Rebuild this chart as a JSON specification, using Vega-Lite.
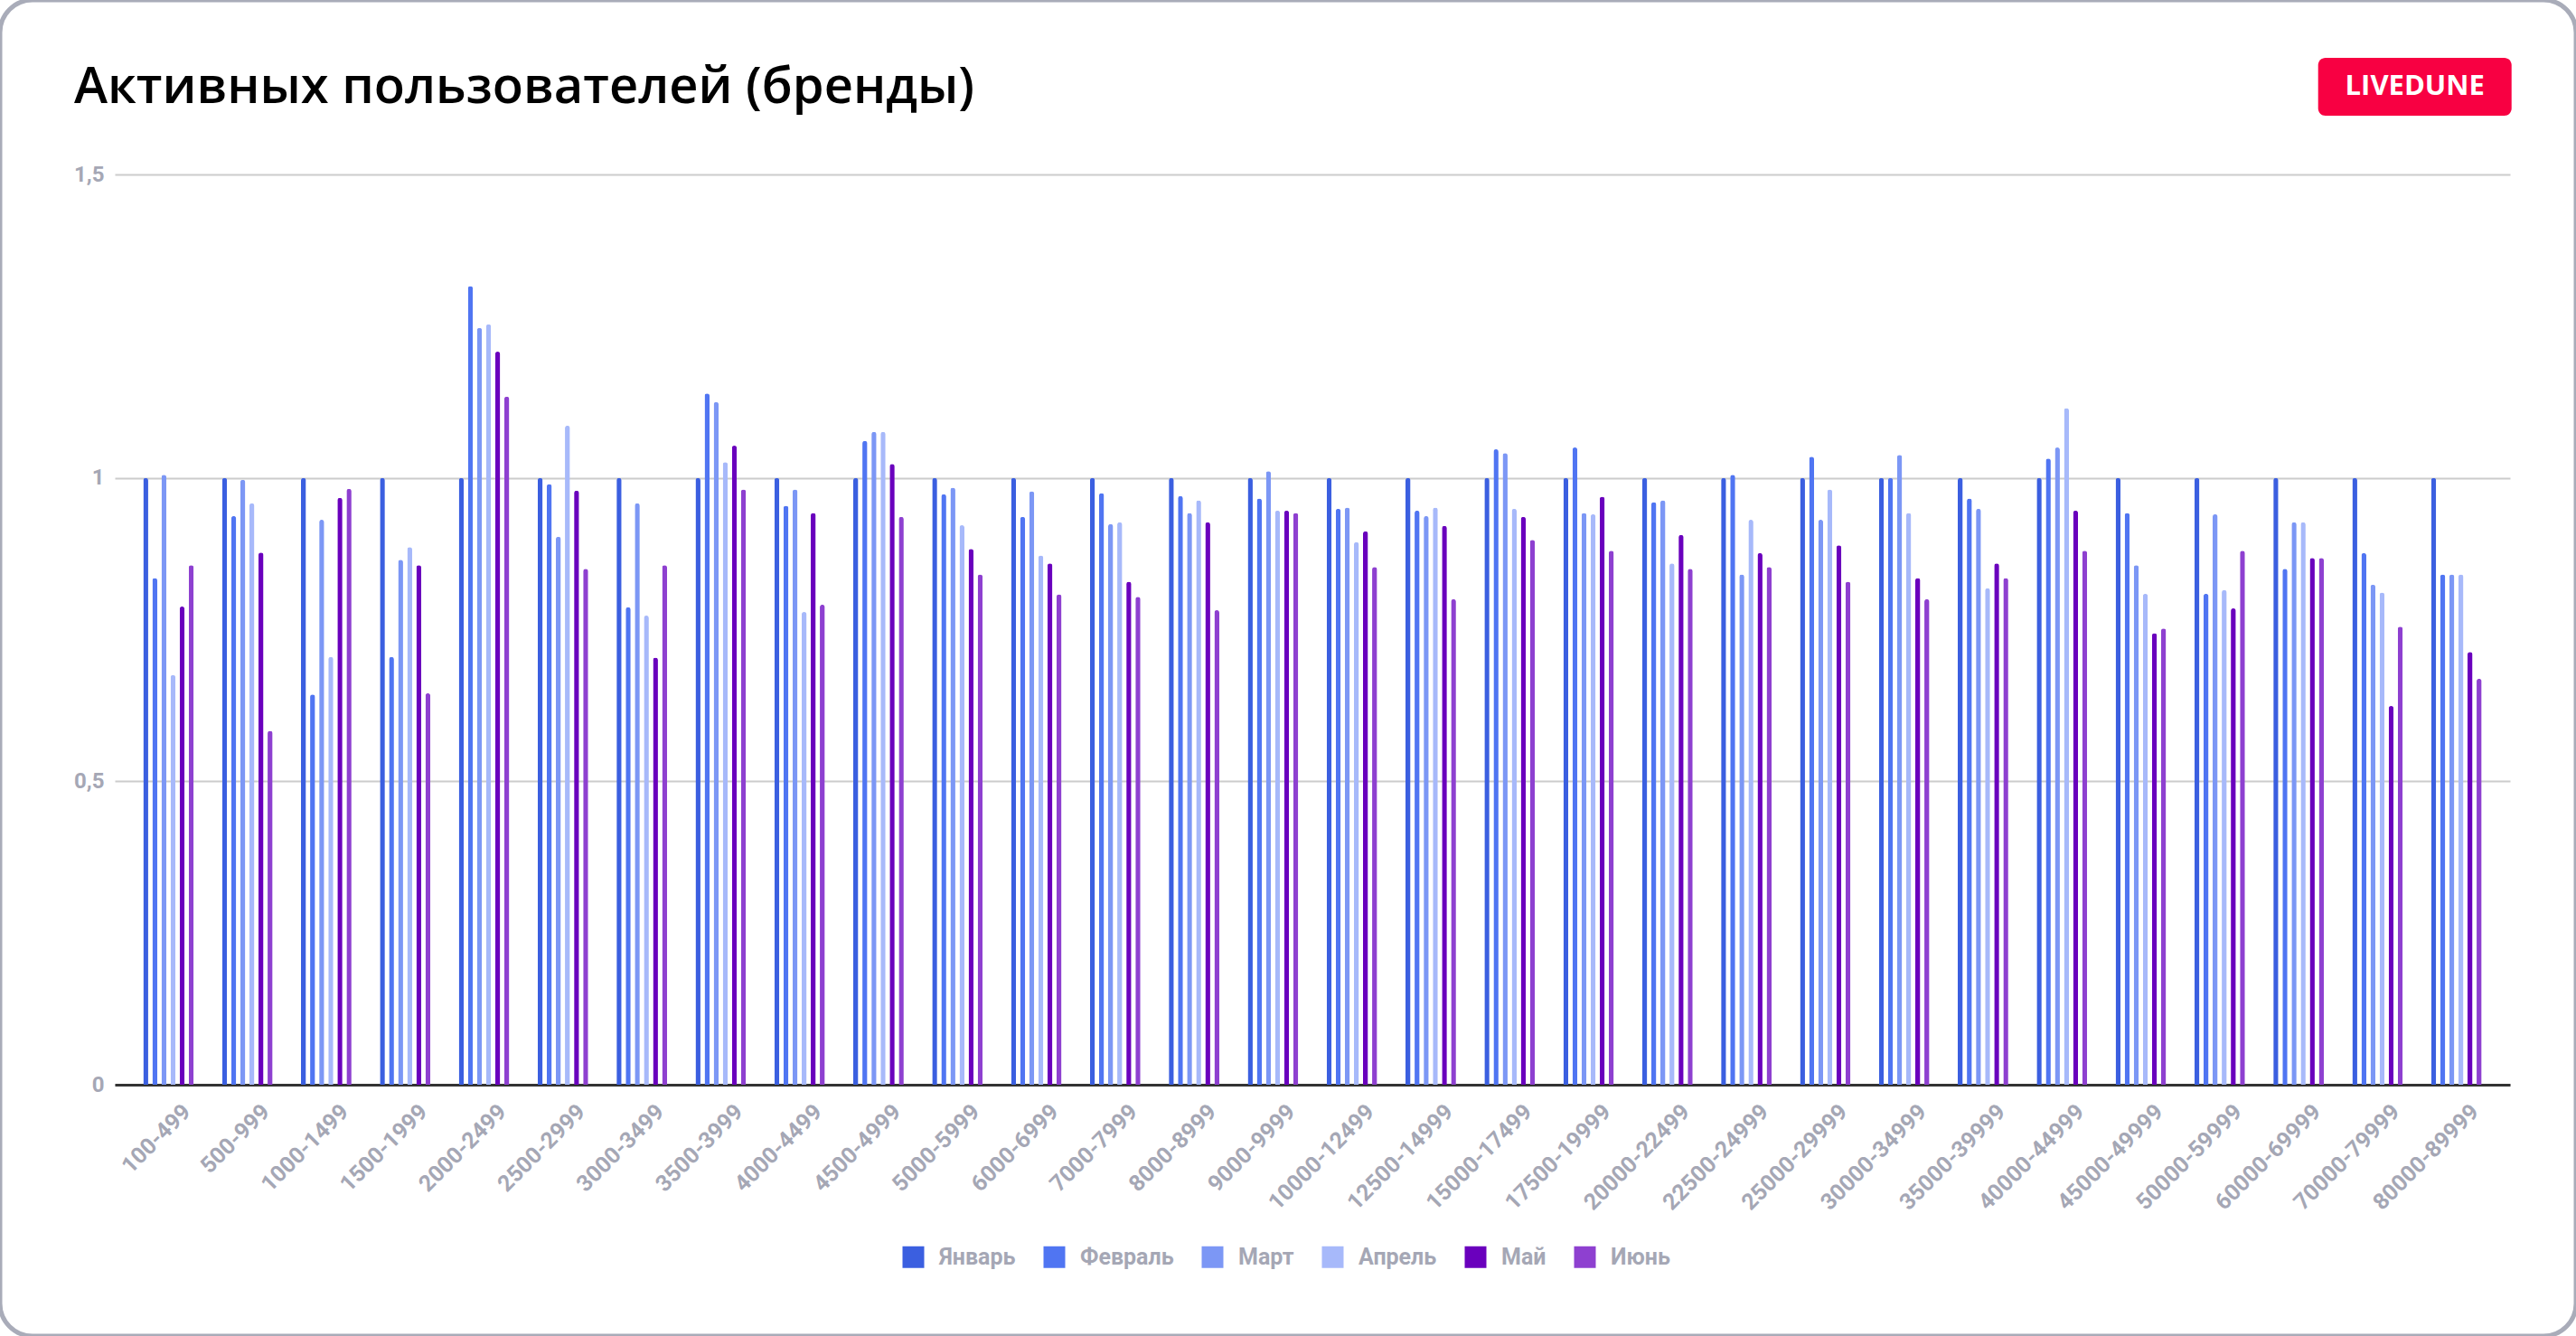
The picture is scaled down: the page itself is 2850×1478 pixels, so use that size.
{
  "$schema": "https://vega.github.io/schema/vega-lite/v6.json",
  "width": 2850,
  "height": 1478,
  "autosize": {"type": "none"},
  "padding": 0,
  "background": "white",
  "title": {"text": "Активных пользователей (бренды)", "anchor": "start", "frame": "group", "orient": "top", "dx": 82, "offset": -170, "baseline": "alphabetic", "font": "Open Sans", "fontSize": 56, "fontWeight": 600, "color": "#000000"},
  "config": {
    "view": {"stroke": "#a9acb9", "strokeWidth": 5, "cornerRadius": 36},
    "font": "Roboto"
  },
  "datasets": {
    "bars": [
      {"g":"100-499","m":"Январь","v":1},{"g":"100-499","m":"Февраль","v":0.835},{"g":"100-499","m":"Март","v":1.005},{"g":"100-499","m":"Апрель","v":0.675},{"g":"100-499","m":"Май","v":0.788},{"g":"100-499","m":"Июнь","v":0.856},
      {"g":"500-999","m":"Январь","v":1},{"g":"500-999","m":"Февраль","v":0.937},{"g":"500-999","m":"Март","v":0.997},{"g":"500-999","m":"Апрель","v":0.958},{"g":"500-999","m":"Май","v":0.877},{"g":"500-999","m":"Июнь","v":0.583},
      {"g":"1000-1499","m":"Январь","v":1},{"g":"1000-1499","m":"Февраль","v":0.643},{"g":"1000-1499","m":"Март","v":0.931},{"g":"1000-1499","m":"Апрель","v":0.705},{"g":"1000-1499","m":"Май","v":0.967},{"g":"1000-1499","m":"Июнь","v":0.982},
      {"g":"1500-1999","m":"Январь","v":1},{"g":"1500-1999","m":"Февраль","v":0.705},{"g":"1500-1999","m":"Март","v":0.865},{"g":"1500-1999","m":"Апрель","v":0.886},{"g":"1500-1999","m":"Май","v":0.856},{"g":"1500-1999","m":"Июнь","v":0.645},
      {"g":"2000-2499","m":"Январь","v":1},{"g":"2000-2499","m":"Февраль","v":1.316},{"g":"2000-2499","m":"Март","v":1.247},{"g":"2000-2499","m":"Апрель","v":1.253},{"g":"2000-2499","m":"Май","v":1.208},{"g":"2000-2499","m":"Июнь","v":1.134},
      {"g":"2500-2999","m":"Январь","v":1},{"g":"2500-2999","m":"Февраль","v":0.990},{"g":"2500-2999","m":"Март","v":0.903},{"g":"2500-2999","m":"Апрель","v":1.086},{"g":"2500-2999","m":"Май","v":0.979},{"g":"2500-2999","m":"Июнь","v":0.850},
      {"g":"3000-3499","m":"Январь","v":1},{"g":"3000-3499","m":"Февраль","v":0.787},{"g":"3000-3499","m":"Март","v":0.958},{"g":"3000-3499","m":"Апрель","v":0.773},{"g":"3000-3499","m":"Май","v":0.704},{"g":"3000-3499","m":"Июнь","v":0.856},
      {"g":"3500-3999","m":"Январь","v":1},{"g":"3500-3999","m":"Февраль","v":1.139},{"g":"3500-3999","m":"Март","v":1.125},{"g":"3500-3999","m":"Апрель","v":1.026},{"g":"3500-3999","m":"Май","v":1.053},{"g":"3500-3999","m":"Июнь","v":0.981},
      {"g":"4000-4499","m":"Январь","v":1},{"g":"4000-4499","m":"Февраль","v":0.954},{"g":"4000-4499","m":"Март","v":0.981},{"g":"4000-4499","m":"Апрель","v":0.779},{"g":"4000-4499","m":"Май","v":0.942},{"g":"4000-4499","m":"Июнь","v":0.791},
      {"g":"4500-4999","m":"Январь","v":1},{"g":"4500-4999","m":"Февраль","v":1.061},{"g":"4500-4999","m":"Март","v":1.076},{"g":"4500-4999","m":"Апрель","v":1.076},{"g":"4500-4999","m":"Май","v":1.023},{"g":"4500-4999","m":"Июнь","v":0.936},
      {"g":"5000-5999","m":"Январь","v":1},{"g":"5000-5999","m":"Февраль","v":0.973},{"g":"5000-5999","m":"Март","v":0.984},{"g":"5000-5999","m":"Апрель","v":0.922},{"g":"5000-5999","m":"Май","v":0.883},{"g":"5000-5999","m":"Июнь","v":0.841},
      {"g":"6000-6999","m":"Январь","v":1},{"g":"6000-6999","m":"Февраль","v":0.936},{"g":"6000-6999","m":"Март","v":0.978},{"g":"6000-6999","m":"Апрель","v":0.872},{"g":"6000-6999","m":"Май","v":0.859},{"g":"6000-6999","m":"Июнь","v":0.808},
      {"g":"7000-7999","m":"Январь","v":1},{"g":"7000-7999","m":"Февраль","v":0.975},{"g":"7000-7999","m":"Март","v":0.924},{"g":"7000-7999","m":"Апрель","v":0.927},{"g":"7000-7999","m":"Май","v":0.829},{"g":"7000-7999","m":"Июнь","v":0.804},
      {"g":"8000-8999","m":"Январь","v":1},{"g":"8000-8999","m":"Февраль","v":0.970},{"g":"8000-8999","m":"Март","v":0.942},{"g":"8000-8999","m":"Апрель","v":0.963},{"g":"8000-8999","m":"Май","v":0.927},{"g":"8000-8999","m":"Июнь","v":0.782},
      {"g":"9000-9999","m":"Январь","v":1},{"g":"9000-9999","m":"Февраль","v":0.966},{"g":"9000-9999","m":"Март","v":1.011},{"g":"9000-9999","m":"Апрель","v":0.946},{"g":"9000-9999","m":"Май","v":0.946},{"g":"9000-9999","m":"Июнь","v":0.942},
      {"g":"10000-12499","m":"Январь","v":1},{"g":"10000-12499","m":"Февраль","v":0.949},{"g":"10000-12499","m":"Март","v":0.951},{"g":"10000-12499","m":"Апрель","v":0.894},{"g":"10000-12499","m":"Май","v":0.912},{"g":"10000-12499","m":"Июнь","v":0.853},
      {"g":"12500-14999","m":"Январь","v":1},{"g":"12500-14999","m":"Февраль","v":0.946},{"g":"12500-14999","m":"Март","v":0.937},{"g":"12500-14999","m":"Апрель","v":0.951},{"g":"12500-14999","m":"Май","v":0.921},{"g":"12500-14999","m":"Июнь","v":0.800},
      {"g":"15000-17499","m":"Январь","v":1},{"g":"15000-17499","m":"Февраль","v":1.047},{"g":"15000-17499","m":"Март","v":1.041},{"g":"15000-17499","m":"Апрель","v":0.949},{"g":"15000-17499","m":"Май","v":0.936},{"g":"15000-17499","m":"Июнь","v":0.898},
      {"g":"17500-19999","m":"Январь","v":1},{"g":"17500-19999","m":"Февраль","v":1.050},{"g":"17500-19999","m":"Март","v":0.942},{"g":"17500-19999","m":"Апрель","v":0.940},{"g":"17500-19999","m":"Май","v":0.969},{"g":"17500-19999","m":"Июнь","v":0.880},
      {"g":"20000-22499","m":"Январь","v":1},{"g":"20000-22499","m":"Февраль","v":0.960},{"g":"20000-22499","m":"Март","v":0.963},{"g":"20000-22499","m":"Апрель","v":0.859},{"g":"20000-22499","m":"Май","v":0.906},{"g":"20000-22499","m":"Июнь","v":0.850},
      {"g":"22500-24999","m":"Январь","v":1},{"g":"22500-24999","m":"Февраль","v":1.005},{"g":"22500-24999","m":"Март","v":0.841},{"g":"22500-24999","m":"Апрель","v":0.931},{"g":"22500-24999","m":"Май","v":0.876},{"g":"22500-24999","m":"Июнь","v":0.853},
      {"g":"25000-29999","m":"Январь","v":1},{"g":"25000-29999","m":"Февраль","v":1.035},{"g":"25000-29999","m":"Март","v":0.931},{"g":"25000-29999","m":"Апрель","v":0.981},{"g":"25000-29999","m":"Май","v":0.889},{"g":"25000-29999","m":"Июнь","v":0.829},
      {"g":"30000-34999","m":"Январь","v":1},{"g":"30000-34999","m":"Февраль","v":1.000},{"g":"30000-34999","m":"Март","v":1.038},{"g":"30000-34999","m":"Апрель","v":0.942},{"g":"30000-34999","m":"Май","v":0.835},{"g":"30000-34999","m":"Июнь","v":0.800},
      {"g":"35000-39999","m":"Январь","v":1},{"g":"35000-39999","m":"Февраль","v":0.966},{"g":"35000-39999","m":"Март","v":0.949},{"g":"35000-39999","m":"Апрель","v":0.818},{"g":"35000-39999","m":"Май","v":0.859},{"g":"35000-39999","m":"Июнь","v":0.835},
      {"g":"40000-44999","m":"Январь","v":1},{"g":"40000-44999","m":"Февраль","v":1.032},{"g":"40000-44999","m":"Март","v":1.050},{"g":"40000-44999","m":"Апрель","v":1.115},{"g":"40000-44999","m":"Май","v":0.946},{"g":"40000-44999","m":"Июнь","v":0.880},
      {"g":"45000-49999","m":"Январь","v":1},{"g":"45000-49999","m":"Февраль","v":0.942},{"g":"45000-49999","m":"Март","v":0.856},{"g":"45000-49999","m":"Апрель","v":0.809},{"g":"45000-49999","m":"Май","v":0.744},{"g":"45000-49999","m":"Июнь","v":0.752},
      {"g":"50000-59999","m":"Январь","v":1},{"g":"50000-59999","m":"Февраль","v":0.809},{"g":"50000-59999","m":"Март","v":0.940},{"g":"50000-59999","m":"Апрель","v":0.815},{"g":"50000-59999","m":"Май","v":0.785},{"g":"50000-59999","m":"Июнь","v":0.880},
      {"g":"60000-69999","m":"Январь","v":1},{"g":"60000-69999","m":"Февраль","v":0.850},{"g":"60000-69999","m":"Март","v":0.927},{"g":"60000-69999","m":"Апрель","v":0.927},{"g":"60000-69999","m":"Май","v":0.868},{"g":"60000-69999","m":"Июнь","v":0.868},
      {"g":"70000-79999","m":"Январь","v":1},{"g":"70000-79999","m":"Февраль","v":0.876},{"g":"70000-79999","m":"Март","v":0.824},{"g":"70000-79999","m":"Апрель","v":0.811},{"g":"70000-79999","m":"Май","v":0.624},{"g":"70000-79999","m":"Июнь","v":0.755},
      {"g":"80000-89999","m":"Январь","v":1},{"g":"80000-89999","m":"Февраль","v":0.841},{"g":"80000-89999","m":"Март","v":0.841},{"g":"80000-89999","m":"Апрель","v":0.841},{"g":"80000-89999","m":"Май","v":0.713},{"g":"80000-89999","m":"Июнь","v":0.669}
    ],
    "badge": [{"t": "LIVEDUNE"}]
  },
  "layer": [
    {
      "data": {"name": "bars"},
      "mark": {"type": "bar", "cornerRadiusTopLeft": 3, "cornerRadiusTopRight": 3},
      "encoding": {
        "x": {
          "field": "g", "type": "nominal", "sort": null, "title": null,
          "scale": {
            "domain": ["100-499","500-999","1000-1499","1500-1999","2000-2499","2500-2999","3000-3499","3500-3999","4000-4499","4500-4999","5000-5999","6000-6999","7000-7999","8000-8999","9000-9999","10000-12499","12500-14999","15000-17499","17500-19999","20000-22499","22500-24999","25000-29999","30000-34999","35000-39999","40000-44999","45000-49999","50000-59999","60000-69999","70000-79999","80000-89999"],
            "range": [127, 2777], "paddingInner": 0.36, "paddingOuter": 0.36
          },
          "axis": {
            "labelAngle": -45, "labelFont": "Roboto", "labelFontSize": 25, "labelFontWeight": "bold", "labelColor": "#a5a7b5",
            "domainColor": "#333333", "domainWidth": 3, "ticks": false, "labelPadding": 17, "labelOffset": 12,
            "offset": -278, "grid": false, "labelOverlap": false
          }
        },
        "xOffset": {
          "field": "m", "type": "nominal",
          "scale": {"domain": ["Январь","Февраль","Март","Апрель","Май","Июнь"], "paddingInner": 0.45}
        },
        "y": {
          "field": "v", "type": "quantitative",
          "scale": {"domain": [0, 1.5], "range": [1200, 193], "nice": false, "zero": true},
          "axis": {
            "values": [0, 0.5, 1, 1.5], "labelExpr": "replace(format(datum.value, '.2~f'), '.', ',')", "title": null,
            "domain": false, "ticks": false, "tickSize": 0, "labelPadding": 12, "labelFont": "Roboto", "labelFontSize": 24,
            "labelFontWeight": "bold", "labelColor": "#a5a7b5", "gridColor": "#cccccc", "gridWidth": 2, "offset": -127
          }
        },
        "color": {
          "field": "m", "type": "nominal",
          "scale": {"domain": ["Январь","Февраль","Март","Апрель","Май","Июнь"], "range": ["#3b5fe0","#5075f2","#7c97f5","#a7b9fa","#6a00bd","#8e40d0"]},
          "legend": {
            "orient": "none", "legendX": 998, "legendY": 1378, "direction": "horizontal", "title": null,
            "symbolType": "square", "symbolSize": 576, "symbolStrokeWidth": 0, "symbolOpacity": 1,
            "labelFont": "Roboto", "labelFontSize": 25, "labelFontWeight": "bold", "labelColor": "#a5a7b5",
            "columnPadding": 30, "labelOffset": 16
          }
        }
      }
    },
    {
      "data": {"name": "badge"},
      "mark": {
        "type": "point", "filled": true, "opacity": 1, "strokeWidth": 0, "color": "#f80042", "size": 45796,
        "shape": "M-0.925,-0.299H0.925A0.075,0.075 0 0 1 1,-0.224V0.224A0.075,0.075 0 0 1 0.925,0.299H-0.925A0.075,0.075 0 0 1 -1,0.224V-0.224A0.075,0.075 0 0 1 -0.925,-0.299Z"
      },
      "encoding": {
        "x": {"datum": "80000-89999", "type": "nominal"},
        "xOffset": {"value": -18},
        "y": {"datum": 1.6445, "type": "quantitative"}
      }
    },
    {
      "data": {"name": "badge"},
      "mark": {"type": "text", "font": "Open Sans", "fontSize": 31, "fontWeight": "bold", "color": "#ffffff", "align": "center", "baseline": "middle"},
      "encoding": {
        "x": {"datum": "80000-89999", "type": "nominal"},
        "xOffset": {"value": -18},
        "y": {"datum": 1.6445, "type": "quantitative"},
        "text": {"field": "t"}
      }
    }
  ]
}
